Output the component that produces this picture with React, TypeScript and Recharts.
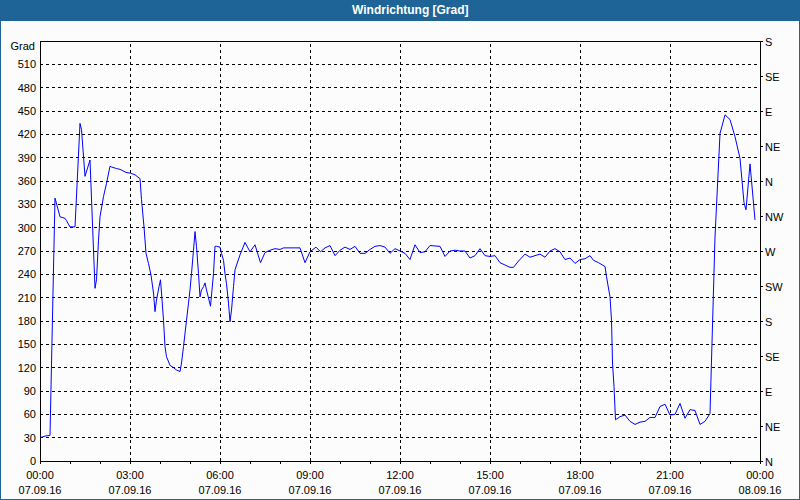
import React from 'react';
import { LineChart, Line, XAxis, YAxis, ReferenceLine } from 'recharts';

const title = 'Windrichtung [Grad]';
const unitLabel = 'Grad';

const minutes = [
  0, 10, 20, 30, 40, 50, 53, 60, 70, 80, 83, 90, 100, 110, 113, 117, 120, 127, 133, 140,
  143, 153, 160, 172, 181, 190, 200, 203, 208, 212, 217, 222, 227, 230, 233, 238, 241, 243, 247, 250,
  253, 260, 267, 273, 280, 283, 287, 293, 297, 300, 303, 307, 310, 313, 317, 320, 323, 327, 330, 333,
  338, 341, 344, 347, 350, 353, 360, 363, 367, 370, 373, 377, 380, 383, 387, 390, 400, 410, 420, 430,
  441, 450, 460, 470, 480, 487, 520, 530, 540, 552, 561, 570, 580, 590, 600, 610, 620, 630, 640, 650,
  660, 670, 680, 690, 700, 710, 720, 730, 740, 750, 760, 770, 780, 800, 810, 820, 830, 840, 850, 860,
  870, 880, 890, 900, 910, 920, 930, 940, 947, 957, 970, 980, 990, 1000, 1010, 1020, 1030, 1040, 1050, 1060,
  1070, 1080, 1090, 1100, 1107, 1117, 1130, 1133, 1140, 1143, 1145, 1148, 1151, 1160, 1170, 1180, 1190, 1200, 1210, 1220,
  1230, 1240, 1250, 1260, 1270, 1280, 1290, 1300, 1310, 1320, 1330, 1340, 1350, 1360, 1370, 1380, 1390, 1400, 1408, 1412,
  1420, 1430,
];

const degrees = [
  30, 32, 33, 338, 314, 312, 309, 301, 301, 434, 426, 366, 387, 222, 233, 284, 314, 340, 357, 379,
  378, 376, 375, 371, 370, 368, 363, 336, 301, 267, 254, 239, 216, 192, 207, 224, 233, 216, 181, 147,
  134, 123, 120, 117, 115, 126, 147, 181, 203, 220, 241, 271, 295, 276, 241, 211, 220, 224, 229, 220,
  207, 199, 220, 241, 276, 276, 275, 267, 258, 241, 228, 203, 179, 194, 224, 246, 265, 281, 269, 278,
  255, 268, 271, 273, 272, 274, 274, 255, 269, 275, 269, 274, 277, 264, 271, 275, 272, 276, 267, 267,
  272, 276, 277, 275, 267, 273, 270, 267, 259, 278, 268, 269, 277, 276, 263, 270, 271, 270, 270, 261,
  264, 273, 264, 263, 264, 255, 252, 249, 249, 257, 266, 262, 264, 266, 262, 270, 273, 269, 259, 261,
  254, 259, 260, 264, 258, 255, 250, 237, 211, 181, 126, 96, 53, 57, 59, 51, 47, 50, 51, 56,
  56, 70, 73, 59, 60, 74, 55, 66, 65, 47, 51, 61, 288, 421, 445, 439, 417, 389, 332, 323,
  382, 310,
];

const gradTicks = [0, 30, 60, 90, 120, 150, 180, 210, 240, 270, 300, 330, 360, 390, 420, 450, 480, 510];
const compassTicks = [0, 45, 90, 135, 180, 225, 270, 315, 360, 405, 450, 495, 540];
const compassLabels = ['N', 'NE', 'E', 'SE', 'S', 'SW', 'W', 'NW', 'N', 'NE', 'E', 'SE', 'S'];
const hourTicks = [0, 60, 120, 180, 240, 300, 360, 420, 480, 540, 600, 660, 720, 780, 840, 900, 960, 1020, 1080, 1140, 1200, 1260, 1320, 1380, 1440];
const gridHours = [180, 360, 540, 720, 900, 1080, 1260];
const timeLabels = ['00:00', '03:00', '06:00', '09:00', '12:00', '15:00', '18:00', '21:00', '00:00'];
const dateLabels = ['07.09.16', '07.09.16', '07.09.16', '07.09.16', '07.09.16', '07.09.16', '07.09.16', '07.09.16', '08.09.16'];

const data = minutes.map((t, i) => ({ t, v: degrees[i] }));

const FONT = '"Liberation Sans", Arial, sans-serif';
const BLUE = '#1e6496';
const BG = '#fbfcfb';

const LeftTick = (props: any) => {
  const { x, y, payload } = props;
  return (
    <text x={x} y={y + 4} textAnchor="end" fontSize={11} fontFamily={FONT} fill="#000">
      {String(payload.value)}
    </text>
  );
};

const RightTick = (props: any) => {
  const { x, y, payload } = props;
  const idx = compassTicks.indexOf(payload.value);
  return (
    <text x={x} y={y + 4.5} textAnchor="start" fontSize={11} fontFamily={FONT} fill="#000">
      {compassLabels[idx]}
    </text>
  );
};

const BottomTick = (props: any) => {
  const { x, y, payload } = props;
  const v = payload.value;
  if (v % 180 !== 0) return <g />;
  const idx = v / 180;
  return (
    <g>
      <text x={x} y={y + 15} textAnchor="middle" fontSize={11} fontFamily={FONT} fill="#000">
        {timeLabels[idx]}
      </text>
      <text x={x} y={y + 30} textAnchor="middle" fontSize={11} fontFamily={FONT} fill="#000">
        {dateLabels[idx]}
      </text>
    </g>
  );
};

export default function App() {
  return (
    <div style={{ position: 'absolute', left: 0, top: 0, width: 800, height: 500, background: BG, overflow: 'hidden' }}>
      <div style={{ position: 'absolute', left: 0, top: 0 }}>
        <LineChart width={800} height={500} data={data} margin={{ top: 41, right: 0, bottom: 0, left: 0 }}>
          <XAxis
            dataKey="t"
            type="number"
            domain={[0, 1440]}
            ticks={hourTicks}
            interval={0}
            height={39}
            tickSize={3}
            tickMargin={0}
            stroke="#000"
            tickLine={{ stroke: '#000', shapeRendering: 'crispEdges' }}
            axisLine={{ stroke: '#000', shapeRendering: 'crispEdges' }}
            tick={<BottomTick />}
            allowDataOverflow
          />
          <YAxis
            yAxisId="left"
            orientation="left"
            type="number"
            domain={[0, 540]}
            ticks={gradTicks}
            interval={0}
            width={40}
            tickSize={0}
            tickMargin={4}
            tickLine={false}
            axisLine={{ stroke: '#000', shapeRendering: 'crispEdges' }}
            tick={<LeftTick />}
            allowDataOverflow
          />
          <YAxis
            yAxisId="right"
            orientation="right"
            type="number"
            domain={[0, 540]}
            ticks={compassTicks}
            interval={0}
            width={40}
            tickSize={3}
            tickMargin={2}
            tickLine={{ stroke: '#000', shapeRendering: 'crispEdges' }}
            axisLine={{ stroke: '#000', shapeRendering: 'crispEdges' }}
            tick={<RightTick />}
            allowDataOverflow
          />
          {gradTicks.slice(1).map((g) => (
            <ReferenceLine key={'h' + g} yAxisId="left" y={g} stroke="#000" strokeDasharray="3 3" strokeWidth={1} shapeRendering="crispEdges" />
          ))}
          {gridHours.map((h) => (
            <ReferenceLine key={'v' + h} yAxisId="left" x={h} stroke="#000" strokeDasharray="3 3" strokeWidth={1} shapeRendering="crispEdges" />
          ))}
          <ReferenceLine yAxisId="left" y={540} stroke="#000" strokeWidth={1} shapeRendering="crispEdges" />
          <Line
            yAxisId="left"
            type="linear"
            dataKey="v"
            stroke="#0000ff"
            strokeWidth={1}
            dot={false}
            activeDot={false}
            isAnimationActive={false}
          />
        </LineChart>
      </div>
      <svg width={800} height={500} style={{ position: 'absolute', left: 0, top: 0, pointerEvents: 'none' }}>
        <text x={35} y={50} textAnchor="end" fontSize={11} fontFamily={FONT} fill="#000">{unitLabel}</text>
      </svg>
      <div
        style={{
          position: 'absolute', left: 0, top: 0, width: 800, height: 21, background: BLUE,
          color: '#fff', fontFamily: FONT, fontWeight: 'bold', fontSize: 12, lineHeight: '21px',
        }}
      >
        <div style={{ position: 'absolute', left: 352, width: 116, textAlign: 'center', whiteSpace: 'nowrap' }}>{title}</div>
      </div>
      <div
        style={{
          position: 'absolute', left: 0, top: 0, width: 800, height: 500, boxSizing: 'border-box',
          border: '1px solid ' + BLUE, pointerEvents: 'none',
        }}
      />
    </div>
  );
}
